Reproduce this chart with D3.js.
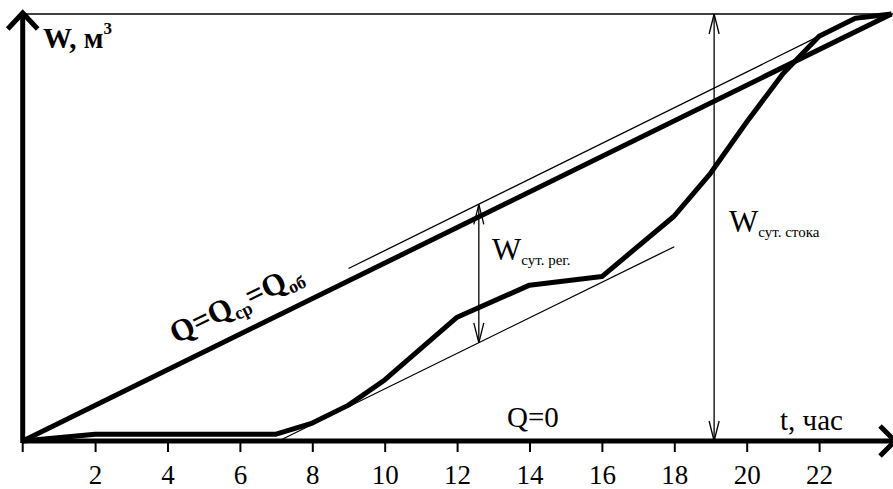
<!DOCTYPE html>
<html>
<head>
<meta charset="utf-8">
<script src="https://cdn.jsdelivr.net/npm/d3@7"></script>
<style>
  body { margin: 0; background: #fff; }
  text { font-family: "Liberation Serif", "Times New Roman", serif; fill: #000; }
</style>
</head>
<body>
<div id="chart"></div>
<script>
// cumulative volume curve (% of daily volume) by hour
const hours = [0, 2, 7, 8, 9, 10, 12, 14, 16, 18, 19, 20, 21, 22, 23, 24];
const volume = [0, 1.6, 1.6, 4.2, 8.4, 14.3, 29, 36.5, 38.5, 52.7, 62.7, 74.7, 86, 94.8, 99, 100];

// average (Q = Qср = Qоб) line
const avgHours = [0, 24];
const avgVolume = [0, 100];

// tangent lines parallel to the average line
const upperHours = [9, 22];
const upperVolume = [40.4, 94.8];
const lowerHours = [7.07, 18];
const lowerVolume = [0, 45.5];

// double arrows
const regArrow = { t: 12.6, from: 23, to: 55.4 };
const stokArrow = { t: 19.1, from: 0, to: 100 };

const tickHours = [2, 4, 6, 8, 10, 12, 14, 16, 18, 20, 22];

const width = 893, height = 489;
const serif = "'Liberation Serif', 'Times New Roman', serif";

const svg = d3.select("#chart")
    .append("svg")
    .attr("width", width)
    .attr("height", height);

const x = d3.scaleLinear().domain([0, 24]).range([22.7, 891.5]);
const y = d3.scaleLinear().domain([0, 100]).range([441, 14]);

const line = d3.line()
    .x(d => x(d[0]))
    .y(d => y(d[1]));

// top border
svg.append("line")
    .attr("x1", x(0)).attr("x2", width)
    .attr("y1", y(100)).attr("y2", y(100))
    .attr("stroke", "#000").attr("stroke-width", 1.6);

// x axis ticks + labels
const xAxis = svg.append("g")
    .attr("transform", `translate(0, ${y(0)})`)
    .attr("font-family", serif)
    .call(d3.axisBottom(x).tickValues(tickHours).tickSize(11).tickPadding(13));
xAxis.attr("font-family", serif);
xAxis.select(".domain").remove();
xAxis.selectAll(".tick line").attr("stroke-width", 2);
xAxis.selectAll(".tick text")
    .style("font-family", serif)
    .style("font-size", "27px");

// tick at origin
svg.append("line")
    .attr("x1", x(0)).attr("x2", x(0))
    .attr("y1", y(0)).attr("y2", y(0) + 11)
    .attr("stroke", "#000").attr("stroke-width", 2);

// thin tangents
[[upperHours, upperVolume], [lowerHours, lowerVolume]].forEach(([h, v]) => {
    svg.append("path")
        .datum(h.map((t, i) => [t, v[i]]))
        .attr("d", line)
        .attr("fill", "none")
        .attr("stroke", "#000")
        .attr("stroke-width", 1.3);
});

// average line
svg.append("path")
    .datum(avgHours.map((t, i) => [t, avgVolume[i]]))
    .attr("d", line)
    .attr("fill", "none")
    .attr("stroke", "#000")
    .attr("stroke-width", 5);

// cumulative curve
svg.append("path")
    .datum(hours.map((t, i) => [t, volume[i]]))
    .attr("d", line)
    .attr("fill", "none")
    .attr("stroke", "#000")
    .attr("stroke-width", 5)
    .attr("stroke-linejoin", "round");

// axes
svg.append("line")
    .attr("x1", x(0)).attr("x2", width)
    .attr("y1", y(0)).attr("y2", y(0))
    .attr("stroke", "#000").attr("stroke-width", 5);
svg.append("line")
    .attr("x1", x(0)).attr("x2", x(0))
    .attr("y1", y(0) + 2).attr("y2", y(100) - 1)
    .attr("stroke", "#000").attr("stroke-width", 5);

// axis arrow heads
svg.append("path")
    .attr("d", `M${x(0) - 15},${y(100) + 15}L${x(0)},${y(100) - 1}L${x(0) + 15},${y(100) + 15}`)
    .attr("fill", "none").attr("stroke", "#000").attr("stroke-width", 5);
svg.append("path")
    .attr("d", `M${width - 13},${y(0) - 15}L${width + 2},${y(0)}L${width - 13},${y(0) + 15}`)
    .attr("fill", "none").attr("stroke", "#000").attr("stroke-width", 5);

// double arrows
function doubleArrow(a) {
    const cx = x(a.t), y1 = y(a.to), y2 = y(a.from);
    const g = svg.append("g")
        .attr("fill", "none").attr("stroke", "#000").attr("stroke-width", 1.3);
    g.append("line").attr("x1", cx).attr("x2", cx).attr("y1", y1).attr("y2", y2);
    g.append("path").attr("d", `M${cx - 5},${y1 + 20}L${cx},${y1}L${cx + 5},${y1 + 20}`);
    g.append("path").attr("d", `M${cx - 5},${y2 - 20}L${cx},${y2}L${cx + 5},${y2 - 20}`);
}
doubleArrow(regArrow);
doubleArrow(stokArrow);

// labels
const wLabel = svg.append("text")
    .attr("x", 43).attr("y", 48)
    .style("font-size", "29px").style("font-weight", "bold");
wLabel.append("tspan").text("W, м");
wLabel.append("tspan").attr("dy", -14).style("font-size", "17px").text("3");

svg.append("text")
    .attr("x", 780).attr("y", 430)
    .style("font-size", "29px")
    .text("t, час");

svg.append("text")
    .attr("x", 507).attr("y", 427)
    .style("font-size", "29px")
    .text("Q=0");

const reg = svg.append("text")
    .attr("x", 492).attr("y", 260)
    .style("font-size", "31px");
reg.append("tspan").text("W");
reg.append("tspan").attr("dy", 5).style("font-size", "15px").text("сут. рег.");

const stok = svg.append("text")
    .attr("x", 729).attr("y", 232)
    .style("font-size", "31px");
stok.append("tspan").text("W");
stok.append("tspan").attr("dy", 5).style("font-size", "15px").text("сут. стока");

const angle = Math.atan2(y(0) - y(100), x(24) - x(0)) * 180 / Math.PI;
const qLabel = svg.append("text")
    .attr("transform", `translate(176, 344) rotate(${-angle})`)
    .style("font-size", "31px").style("font-weight", "bold");
qLabel.append("tspan").text("Q=Q");
qLabel.append("tspan").attr("dy", 6).style("font-size", "18px").text("ср");
qLabel.append("tspan").attr("dy", -6).text("=Q");
qLabel.append("tspan").attr("dy", 6).style("font-size", "18px").text("об");
</script>
</body>
</html>
